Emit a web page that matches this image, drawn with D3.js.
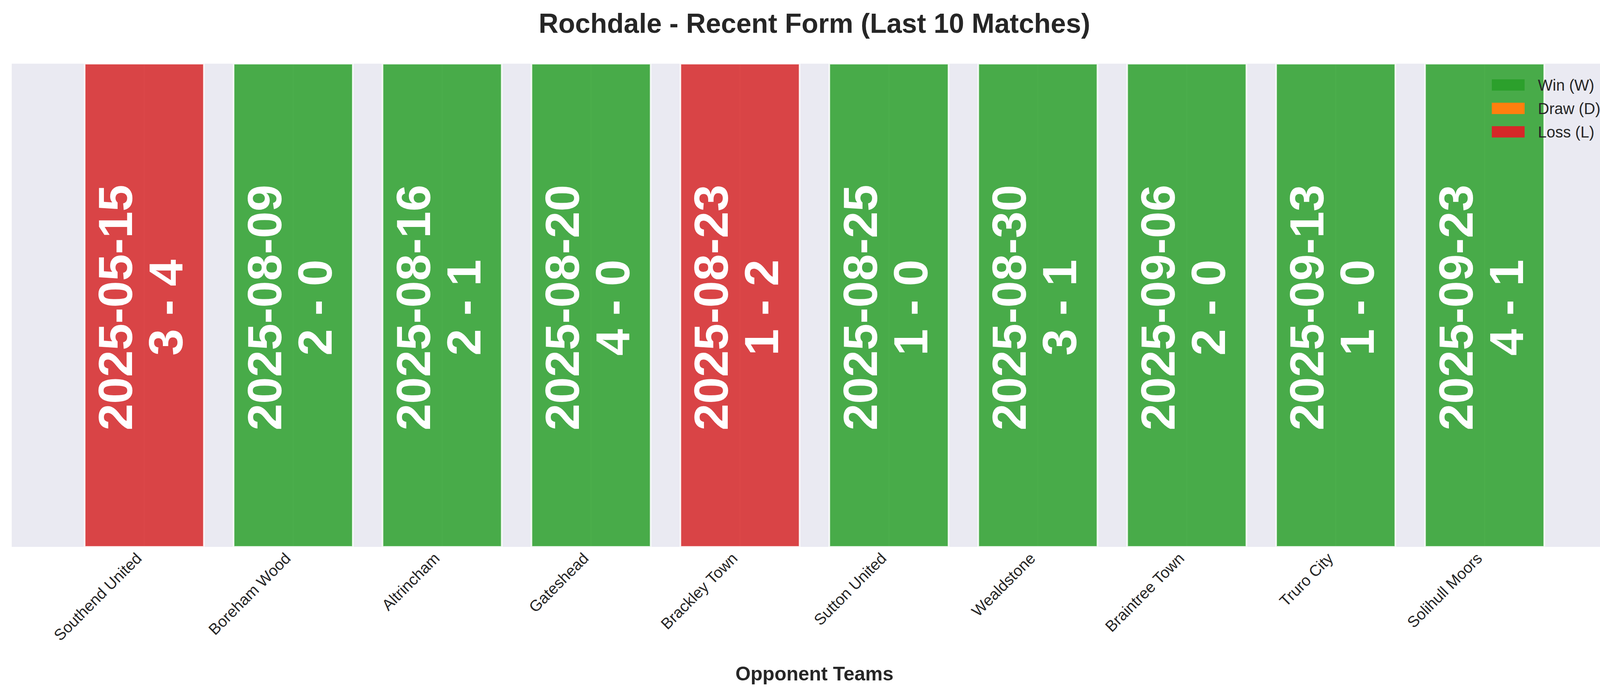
<!DOCTYPE html>
<html><head><meta charset="utf-8">
<script src="https://cdn.jsdelivr.net/npm/d3@7/dist/d3.min.js"></script>
<style>html,body{margin:0;padding:0;background:#fff;overflow:hidden;width:4170px;height:1769px}svg{display:block;font-family:"Liberation Sans",Arial,sans-serif}</style>
</head><body>
<script>
const opponents = ["Southend United","Boreham Wood","Altrincham","Gateshead","Brackley Town","Sutton United","Wealdstone","Braintree Town","Truro City","Solihull Moors"];
const dates = ["2025-05-15","2025-08-09","2025-08-16","2025-08-20","2025-08-23","2025-08-25","2025-08-30","2025-09-06","2025-09-13","2025-09-23"];
const scores = ["3 - 4","2 - 0","2 - 1","4 - 0","1 - 2","1 - 0","3 - 1","2 - 0","1 - 0","4 - 1"];
const results = ["L","W","W","W","L","W","W","W","W","W"];
const legendItems = [["W","Win (W)"],["D","Draw (D)"],["L","Loss (L)"]];
const colors = {W:"#2ca02c", D:"#ff7f0e", L:"#d62728"};

const W=4170,H=1769, L=30,R=4140,T=163,B=1400;
const svg=d3.select("body").append("svg").attr("width",W).attr("height",H).attr("viewBox",`0 0 ${W} ${H}`);
const x=d3.scaleLinear().domain([-0.89,9.89]).range([L,R]);
const y=d3.scaleLinear().domain([0,1]).range([B,T]);
const bw=x(0.8)-x(0);

svg.append("rect").attr("x",L).attr("y",T).attr("width",R-L).attr("height",B-T).attr("fill","#eaeaf2");
svg.append("g").selectAll("line").data(opponents).join("line")
  .attr("x1",(d,i)=>x(i)).attr("x2",(d,i)=>x(i)).attr("y1",T).attr("y2",B)
  .attr("stroke","#fff").attr("stroke-width",2.5);

svg.append("g").selectAll("rect").data(results).join("rect")
  .attr("x",(d,i)=>x(i)-bw/2).attr("width",bw)
  .attr("y",y(1)).attr("height",y(0)-y(1))
  .attr("fill",d=>colors[d]).attr("fill-opacity",0.85)
  .attr("stroke","#fff").attr("stroke-width",4).attr("stroke-opacity",0.85);

const cy=(T+B)/2+6;
const lab=svg.append("g").selectAll("text").data(dates).join("text")
  .attr("transform",(d,i)=>`translate(${x(i)},${cy}) rotate(-90)`)
  .attr("text-anchor","middle").attr("fill","#fff").attr("font-weight","bold").attr("font-size",123);
lab.append("tspan").attr("x",0).attr("y",-31).text(d=>d);
lab.append("tspan").attr("x",0).attr("y",98).text((d,i)=>scores[i]);

svg.append("g").selectAll("text").data(opponents).join("text")
  .attr("transform",(d,i)=>`translate(${x(i)-4},${B+32}) rotate(-45)`)
  .attr("text-anchor","end").attr("font-size",40).attr("fill","#262626").text(d=>d);

svg.append("text").attr("x",W/2).attr("y",84).attr("text-anchor","middle")
  .attr("font-weight","bold").attr("font-size",70).attr("fill","#262626")
  .text("Rochdale - Recent Form (Last 10 Matches)");
svg.append("text").attr("x",(L+R)/2).attr("y",1742).attr("text-anchor","middle")
  .attr("font-weight","bold").attr("font-size",50).attr("fill","#262626").text("Opponent Teams");

const lg=svg.append("g").selectAll("g").data(legendItems).join("g")
  .attr("transform",(d,i)=>`translate(3819,${203+i*60})`);
lg.append("rect").attr("width",84).attr("height",29).attr("fill",d=>colors[d[0]]);
lg.append("text").attr("x",118).attr("y",29).attr("font-size",40).attr("fill","#262626").text(d=>d[1]);
</script>
</body></html>
